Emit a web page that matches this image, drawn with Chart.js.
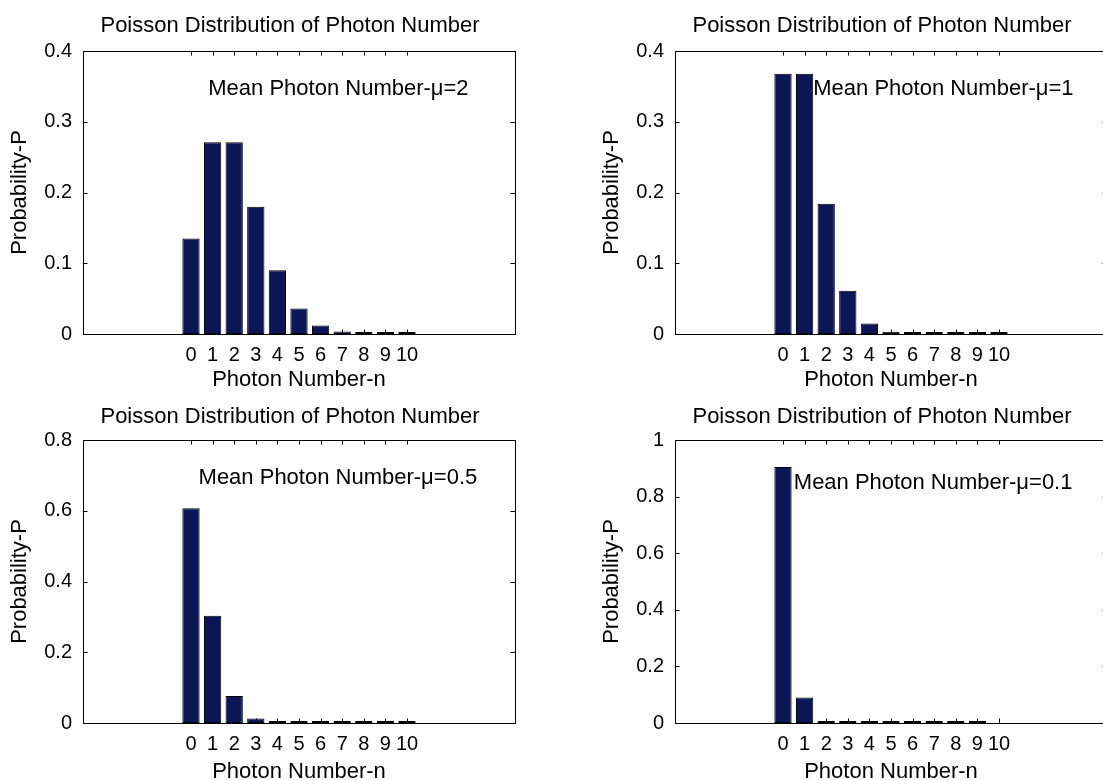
<!DOCTYPE html>
<html>
<head>
<meta charset="utf-8">
<title>Poisson Distribution of Photon Number</title>
<script src="https://cdn.jsdelivr.net/npm/chart.js@4.4.0/dist/chart.umd.min.js"></script>
<style>
    html, body { margin: 0; padding: 0; background: #fff; }
    #fig { position: relative; width: 1103px; height: 780px; overflow: hidden; }
    #fig canvas { position: absolute; }
</style>
</head>
<body>
<div id="fig"></div>
<script>
// Data
const photonNumbers = [0, 1, 2, 3, 4, 5, 6, 7, 8, 9, 10];
const probMu2  = [0.135, 0.271, 0.271, 0.180, 0.090, 0.036, 0.012, 0.0034, 0.0009, 0.0002, 0.00004];
const probMu1  = [0.368, 0.368, 0.184, 0.061, 0.015, 0.0031, 0.0005, 0.0001, 0.00001, 0.000001, 0.0000001];
const probMu05 = [0.607, 0.303, 0.076, 0.013, 0.0016, 0.0002, 0.00001, 0.000001, 0.0000001, 0.00000001, 0.000000001];
const probMu01 = [0.905, 0.090, 0.0045, 0.00015, 0.000004, 0.0000001, 0.000000001, 0.00000000001, 0.0000000000001, 0.000000000000001, null];

const chartTitle = 'Poisson Distribution of Photon Number';
const meanLabels = ['Mean Photon Number-μ=2', 'Mean Photon Number-μ=1', 'Mean Photon Number-μ=0.5', 'Mean Photon Number-μ=0.1'];
const yMaxes = [0.4, 0.4, 0.8, 1];
const yStepSizes = [0.1, 0.1, 0.2, 0.2];
const xMin = -5, xMax = 15;

// where the "Mean Photon Number" note sits, in data units
const noteX = [0.8, 1.4, 0.35, 0.5];
const noteY = [0.346, 0.346, 0.692, 0.85];

const FONT = '"Liberation Sans", Arial, Helvetica, sans-serif';
const BAR_FILL = '#0a1656';
const BAR_EDGE = '#000';

Chart.defaults.font.family = FONT;
Chart.defaults.color = '#000';

// canvas placement of each subplot (axes box is 83px in, 51px down)
const panels = [
    { left: 0,   top: 0,   series: probMu2,  titleUp: 25, xBand: 59 },
    { left: 592, top: 0,   series: probMu1,  titleUp: 25, xBand: 59 },
    { left: 0,   top: 389, series: probMu05, titleUp: 23, xBand: 62 },
    { left: 592, top: 389, series: probMu01, titleUp: 23, xBand: 62 }
];

// MATLAB-like box, inward ticks, title and text note
const matlabAxes = {
    id: 'matlabAxes',
    beforeDatasetsDraw(chart) {
        const { ctx, chartArea: a, scales: { x, y } } = chart;
        const len = 4.5;
        ctx.save();
        ctx.strokeStyle = '#000';
        ctx.lineWidth = 1;
        ctx.beginPath();
        x.ticks.forEach(t => {
            const px = Math.round(x.getPixelForValue(t.value)) + 0.5;
            ctx.moveTo(px, a.top);
            ctx.lineTo(px, a.top + len);
            ctx.moveTo(px, a.bottom);
            ctx.lineTo(px, a.bottom - len);
        });
        y.ticks.forEach(t => {
            const py = Math.round(y.getPixelForValue(t.value)) + 0.5;
            ctx.moveTo(a.left, py);
            ctx.lineTo(a.left + len, py);
            ctx.moveTo(a.right, py);
            ctx.lineTo(a.right - len, py);
        });
        ctx.stroke();
        ctx.restore();
    },
    afterDatasetsDraw(chart, args, opts) {
        const { ctx, chartArea: a, scales: { x, y } } = chart;
        ctx.save();
        ctx.strokeStyle = '#000';
        ctx.lineWidth = 1;
        ctx.strokeRect(Math.round(a.left) + 0.5, Math.round(a.top) + 0.5,
            Math.round(a.right - a.left), Math.round(a.bottom - a.top));
        ctx.fillStyle = '#000';
        ctx.font = '22px ' + FONT;
        ctx.textBaseline = 'middle';
        // title, centred over the axes like the original
        ctx.textAlign = 'center';
        ctx.fillText(opts.title, (a.left + a.right) / 2 - 9, a.top - opts.titleUp);
        // note
        ctx.textAlign = 'left';
        ctx.fillText(opts.text, x.getPixelForValue(opts.x), y.getPixelForValue(opts.y));
        ctx.restore();
    }
};

const fig = document.getElementById('fig');

panels.forEach((p, i) => {
    const h = 51 + 283 + p.xBand;
    const canvas = document.createElement('canvas');
    canvas.width = 580;
    canvas.height = h;
    canvas.style.left = p.left + 'px';
    canvas.style.top = p.top + 'px';
    canvas.style.width = '580px';
    canvas.style.height = h + 'px';
    fig.appendChild(canvas);

    new Chart(canvas.getContext('2d'), {
        type: 'bar',
        data: {
            datasets: [{
                data: photonNumbers.map((n, k) => ({ x: n, y: p.series[k] })),
                backgroundColor: BAR_FILL,
                borderColor: BAR_EDGE,
                borderWidth: 1,
                borderSkipped: false,
                barPercentage: 0.8,
                categoryPercentage: 1,
                minBarLength: 2
            }]
        },
        options: {
            responsive: false,
            animation: false,
            devicePixelRatio: 1,
            layout: { padding: { left: 0, right: 65, top: 51, bottom: 0 } },
            plugins: {
                legend: { display: false },
                tooltip: { enabled: false },
                matlabAxes: { title: chartTitle, titleUp: p.titleUp, text: meanLabels[i], x: noteX[i], y: noteY[i] }
            },
            scales: {
                x: {
                    type: 'linear',
                    min: xMin,
                    max: xMax,
                    offset: false,
                    grid: { display: false, drawTicks: false, offset: false },
                    border: { display: false },
                    afterBuildTicks: s => { s.ticks = photonNumbers.map(v => ({ value: v })); },
                    ticks: { padding: 9, autoSkip: false, maxRotation: 0, color: '#000', font: { size: 20 } },
                    title: { display: true, text: 'Photon Number-n', color: '#000', font: { size: 22 }, padding: 0 },
                    afterFit: s => { s.height = p.xBand; }
                },
                y: {
                    min: 0,
                    max: yMaxes[i],
                    grid: { display: false, drawTicks: false },
                    border: { display: false },
                    ticks: {
                        stepSize: yStepSizes[i],
                        padding: 11,
                        color: '#000',
                        font: { size: 20 },
                        callback: v => String(+v.toFixed(2))
                    },
                    title: { display: true, text: 'Probability-P', color: '#000', font: { size: 22 }, padding: { top: 7, bottom: 0 } },
                    afterFit: s => { s.width = 83; }
                }
            }
        },
        plugins: [matlabAxes]
    });
});
</script>
</body>
</html>
